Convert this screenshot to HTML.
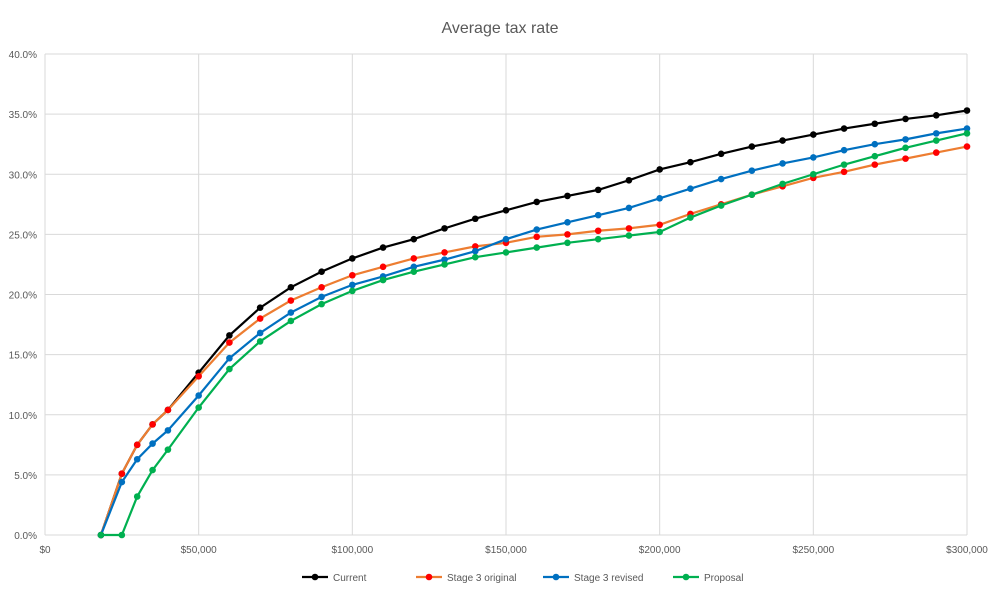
<!DOCTYPE html>
<html><head><meta charset="utf-8"><style>
body{margin:0;background:#fff;font-family:"Liberation Sans",sans-serif}
svg text{font-family:"Liberation Sans",sans-serif;fill:#595959}
</style></head><body>
<svg id="c" width="1000" height="600">
<text x="500" y="33" text-anchor="middle" font-size="16">Average tax rate</text>
<g id="grid"></g><g id="series"></g><g id="legend"></g>
</svg>
<script>
const incomes=[18200,25000,30000,35000,40000,50000,60000,70000,80000,90000,100000,110000,120000,130000,140000,150000,160000,170000,180000,190000,200000,210000,220000,230000,240000,250000,260000,270000,280000,290000,300000];
const current=[0,5.1,7.5,9.2,10.4,13.5,16.6,18.9,20.6,21.9,23.0,23.9,24.6,25.5,26.3,27.0,27.7,28.2,28.7,29.5,30.4,31.0,31.7,32.3,32.8,33.3,33.8,34.2,34.6,34.9,35.3];
const stage3Original=[0,5.1,7.5,9.2,10.4,13.2,16.0,18.0,19.5,20.6,21.6,22.3,23.0,23.5,24.0,24.3,24.8,25.0,25.3,25.5,25.8,26.7,27.5,28.3,29.0,29.7,30.2,30.8,31.3,31.8,32.3];
const stage3Revised=[0,4.4,6.3,7.6,8.7,11.6,14.7,16.8,18.5,19.8,20.8,21.5,22.3,22.9,23.6,24.6,25.4,26.0,26.6,27.2,28.0,28.8,29.6,30.3,30.9,31.4,32.0,32.5,32.9,33.4,33.8];
const proposal=[0,0,3.2,5.4,7.1,10.6,13.8,16.1,17.8,19.2,20.3,21.2,21.9,22.5,23.1,23.5,23.9,24.3,24.6,24.9,25.2,26.4,27.4,28.3,29.2,30.0,30.8,31.5,32.2,32.8,33.4];
const xTicks=[0,50000,100000,150000,200000,250000,300000];
const xTickLabels=["$0","$50,000","$100,000","$150,000","$200,000","$250,000","$300,000"];
const yTicks=[0,5,10,15,20,25,30,35,40];
const yTickLabels=["0.0%","5.0%","10.0%","15.0%","20.0%","25.0%","30.0%","35.0%","40.0%"];
const NS="http://www.w3.org/2000/svg";
const X0=45,X1=967,Y0=535,Y1=54;
const xs=v=>X0+(v/300000)*(X1-X0);
const ys=v=>Y0-(v/40)*(Y0-Y1);
function mk(t,a,p){const e=document.createElementNS(NS,t);for(const k in a)e.setAttribute(k,a[k]);p.appendChild(e);return e;}
const grid=document.getElementById('grid');
yTicks.forEach((t,i)=>{
 const l=mk('line',{x1:X0,x2:X1,y1:ys(t),y2:ys(t),stroke:'#d9d9d9','stroke-width':1},grid);
 
 
 const tx=mk('text',{x:37,y:ys(t)+4,'text-anchor':'end','font-size':10},grid);tx.textContent=yTickLabels[i];
 
 
});
xTicks.forEach((t,i)=>{
 const l=mk('line',{x1:xs(t),x2:xs(t),y1:Y1,y2:Y0,stroke:'#d9d9d9','stroke-width':1},grid);
 
 
 const tx=mk('text',{x:xs(t),y:553,'text-anchor':'middle','font-size':10},grid);tx.textContent=xTickLabels[i];
 
 
});
const series=[
 {name:'Current',vals:current,line:'#000',dot:'#000'},
 {name:'Stage 3 original',vals:stage3Original,line:'#ed7d31',dot:'#ff0000'},
 {name:'Stage 3 revised',vals:stage3Revised,line:'#0070c0',dot:'#0070c0'},
 {name:'Proposal',vals:proposal,line:'#00b050',dot:'#00b050'}];
const sg=document.getElementById('series');
[0,1,2,3].forEach(si=>{
 const s=series[si];
 const g=mk('g',{},sg);
 
 
 const p=mk('polyline',{points:s.vals.map((v,i)=>xs(incomes[i])+','+ys(v)).join(' '),fill:'none',stroke:s.line,'stroke-width':2.2},g);
 
 
 s.vals.forEach((v,i)=>{
  const c=mk('circle',{cx:xs(incomes[i]),cy:ys(v),r:3.3,fill:s.dot},g);
  
  
 });
});
const lg=document.getElementById('legend');
const lx=[302,416,543,673];
series.forEach((s,i)=>{
 const g=mk('g',{},lg);
 
 
 mk('line',{x1:lx[i],x2:lx[i]+26,y1:577,y2:577,stroke:s.line,'stroke-width':2.2},g);
 mk('circle',{cx:lx[i]+13,cy:577,r:3.3,fill:s.dot},g);
 const t=mk('text',{x:lx[i]+31,y:581,'font-size':10},g);t.textContent=s.name;
});
</script>
</body></html>
